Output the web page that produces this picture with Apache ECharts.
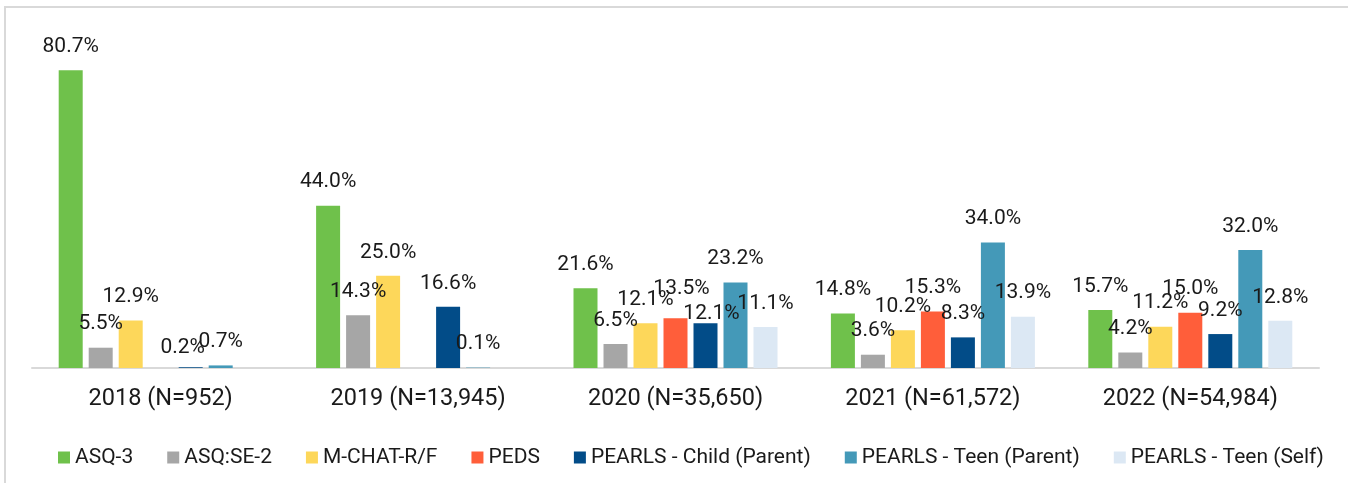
<!DOCTYPE html>
<html>
<head>
<meta charset="utf-8">
<script src="https://cdn.jsdelivr.net/npm/echarts@6/dist/echarts.min.js"></script>
<style>
  html, body { margin: 0; padding: 0; background: #fff; }
  #chart { width: 1348px; height: 483px; }
</style>
</head>
<body>
<div id="chart"></div>
<script>
// categories (x axis)
var years = ['2018 (N=952)', '2019 (N=13,945)', '2020 (N=35,650)', '2021 (N=61,572)', '2022 (N=54,984)']

// series values, percent (null = no bar)
var asq3 = [80.7, 44.0, 21.6, 14.8, 15.7]
var asqSe2 = [5.5, 14.3, 6.5, 3.6, 4.2]
var mchat = [12.9, 25.0, 12.1, 10.2, 11.2]
var peds = [null, null, 13.5, 15.3, 15.0]
var pearlsChild = [0.2, 16.6, 12.1, 8.3, 9.2]
var pearlsTeenParent = [0.7, 0.1, 23.2, 34.0, 32.0]
var pearlsTeenSelf = [null, null, 11.1, 13.9, 12.8]

var seriesDefs = [
  { name: 'ASQ-3', data: asq3, color: '#6fc14b' },
  { name: 'ASQ:SE-2', data: asqSe2, color: '#a6a6a6' },
  { name: 'M-CHAT-R/F', data: mchat, color: '#fdd75a' },
  { name: 'PEDS', data: peds, color: '#ff5e3a' },
  { name: 'PEARLS - Child (Parent)', data: pearlsChild, color: '#024c88' },
  { name: 'PEARLS - Teen (Parent)', data: pearlsTeenParent, color: '#4499b8' },
  { name: 'PEARLS - Teen (Self)', data: pearlsTeenSelf, color: '#dce8f4' }
]

// a few labels were nudged in the original to dodge each other
var labelNudge = {
  '4-0': [-8, 4],
  '3-2': [6, -6],
  '4-2': [6, 14]
}

var chart = echarts.init(document.getElementById('chart'))

chart.setOption({
  animation: false,
  textStyle: { fontFamily: 'Roboto' },
  graphic: [{
    type: 'rect',
    shape: { x: 5, y: 7, width: 1400, height: 520 },
    style: { fill: 'none', stroke: '#d9d9d9', lineWidth: 2 },
    silent: true
  }],
  grid: {
    left: 32,
    right: 29,
    top: 36,
    bottom: 115
  },
  legend: {
    left: 58,
    top: 447,
    padding: 0,
    itemWidth: 12,
    itemHeight: 12,
    itemGap: 34,
    icon: 'rect',
    textStyle: { fontSize: 21, color: '#1a1a1a' },
    data: seriesDefs.map(function (s) { return s.name })
  },
  xAxis: {
    type: 'category',
    data: years,
    axisLine: { lineStyle: { color: '#d9d9d9', width: 2 } },
    axisTick: { show: false },
    axisLabel: { fontSize: 23.5, color: '#1a1a1a', margin: 19 }
  },
  yAxis: {
    type: 'value',
    min: 0,
    max: 90,
    show: false
  },
  labelLayout: function (params) {
    var n = labelNudge[params.seriesIndex + '-' + params.dataIndex]
    if (n) return { dx: n[0], dy: n[1] }
  },
  series: seriesDefs.map(function (s) {
    return {
      name: s.name,
      type: 'bar',
      data: s.data,
      barWidth: 24,
      barGap: '25%',
      itemStyle: { color: s.color },
      label: {
        show: true,
        position: 'top',
        distance: 13,
        fontSize: 21,
        color: '#1a1a1a',
        formatter: function (p) { return p.value.toFixed(1) + '%' }
      }
    }
  })
})
</script>
</body>
</html>
